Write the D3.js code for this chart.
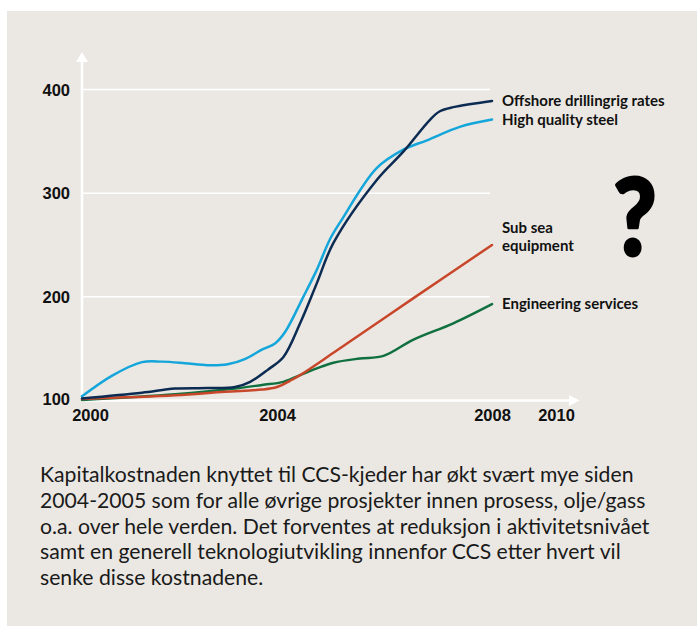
<!DOCTYPE html>
<meta charset="utf-8">
<style>
body { margin: 0; background: #fff; }
svg { display: block; font-family: Lato, "Open Sans", sans-serif; }
.tick text { font-size: 16.5px; font-weight: 700; fill: #111; }
.label { font-size: 15px; font-weight: 700; fill: #111; }
.note { font-size: 21.2px; fill: #1a1a1a; }
</style>
<svg width="697" height="626"></svg>
<script src="https://d3js.org/d3.v7.min.js"></script>
<script>

// values (index, 2000 = 100)
var steelYears  = [2000, 2000.62, 2001.23, 2001.64, 2002.11, 2002.58, 2002.99, 2003.34, 2003.69, 2003.96, 2004.15, 2004.49, 2004.74, 2004.99, 2005.2, 2005.85, 2006.35, 2006.79, 2007.4, 2008];
var steelValues = [104, 124, 137, 137.5, 136, 134, 135, 140, 149, 155, 166, 200, 226, 256, 274, 324, 342, 351, 364, 371];

var rigYears  = [2000, 2001.23, 2001.91, 2002.58, 2003.14, 2003.45, 2003.82, 2004.12, 2004.43, 2004.74, 2005.05, 2005.86, 2006.35, 2006.85, 2007.03, 2007.28, 2008];
var rigValues = [102, 107.5, 111.5, 112, 113, 118, 130, 142, 174.5, 213, 252, 313, 340, 371, 379, 383, 389];

var subseaYears  = [2000, 2001.91, 2002.93, 2003.69, 2004, 2004.24, 2004.43, 2005.05, 2006.56, 2008];
var subseaValues = [101.5, 105, 108.5, 110.5, 113, 119, 124.5, 146, 199.5, 250];

var engYears  = [2000, 2001.91, 2003.14, 2003.69, 2004.12, 2004.43, 2004.74, 2005.05, 2005.54, 2005.98, 2006.53, 2007.28, 2008];
var engValues = [100.5, 106, 111.5, 115, 118, 124.5, 131, 136.5, 140.5, 143, 158.5, 174.5, 193];

var yTicks = [100, 200, 300, 400];
var xTicks = [2000, 2004, 2008, 2010];

var series = [
  {name: ["Offshore drillingrig rates"], years: rigYears, values: rigValues, color: "#0c2b52"},
  {name: ["High quality steel"], years: steelYears, values: steelValues, color: "#14a6da"},
  {name: ["Sub sea", "equipment"], years: subseaYears, values: subseaValues, color: "#c8472a"},
  {name: ["Engineering services"], years: engYears, values: engValues, color: "#10703f"}
];

var noteLines = [
  "Kapitalkostnaden knyttet til CCS-kjeder har økt svært mye siden",
  "2004-2005 som for alle øvrige prosjekter innen prosess, olje/gass",
  "o.a. over hele verden. Det forventes at reduksjon i aktivitetsnivået",
  "samt en generell teknologiutvikling innenfor CCS etter hvert vil",
  "senke disse kostnadene."
];

var svg = d3.select("svg"),
    width = +svg.attr("width"),
    height = +svg.attr("height");

// panel
svg.append("rect")
    .attr("x", 7).attr("y", 11)
    .attr("width", width - 7).attr("height", height - 11)
    .attr("fill", "#ebe8e3");

// the original axis is not evenly spaced, so the scale is piecewise
var x = d3.scaleLinear().domain(xTicks).range([82, 277, 492, 556]);
var y = d3.scaleLinear().domain([100, 400]).range([400.5, 89.5]);

// gridlines
svg.append("g")
  .selectAll("line")
  .data(yTicks.slice(1))
  .enter().append("line")
    .attr("x1", x(2000)).attr("x2", x(2008) - 2)
    .attr("y1", function(d) { return y(d); })
    .attr("y2", function(d) { return y(d); })
    .attr("stroke", "#fff")
    .attr("stroke-width", 1.5);

// axis lines with arrows
var x0 = x(2000), y0 = y(100);
svg.append("line")
    .attr("x1", x0).attr("x2", x0)
    .attr("y1", y0 + 1).attr("y2", 60)
    .attr("stroke", "#fff").attr("stroke-width", 2.5);
svg.append("path")
    .attr("d", "M" + (x0 - 6) + ",62L" + x0 + ",52L" + (x0 + 6) + ",62Z")
    .attr("fill", "#fff");
svg.append("line")
    .attr("x1", x0 - 1).attr("x2", 571)
    .attr("y1", y0).attr("y2", y0)
    .attr("stroke", "#fff").attr("stroke-width", 2.5);
svg.append("path")
    .attr("d", "M569," + (y0 - 5.5) + "L579.5," + y0 + "L569," + (y0 + 5.5) + "Z")
    .attr("fill", "#fff");

// tick labels
var yAxis = svg.append("g")
    .attr("transform", "translate(" + (x0 - 12) + ",0)")
    .call(d3.axisLeft(y).tickValues(yTicks).tickSize(0).tickPadding(0));
yAxis.select(".domain").remove();
yAxis.selectAll(".tick text").attr("dy", "0.35em");
yAxis.selectAll(".tick").filter(function(d) { return d == 100; })
    .select("text").attr("dy", "0.22em");

var xAxis = svg.append("g")
    .attr("transform", "translate(0," + (y0 + 9) + ")")
    .call(d3.axisBottom(x).tickValues(xTicks).tickSize(0).tickPadding(0).tickFormat(d3.format("d")));
xAxis.select(".domain").remove();
xAxis.selectAll(".tick text").attr("dy", "0.71em");
xAxis.selectAll(".tick").filter(function(d) { return d == 2000; })
    .select("text").attr("dx", 8);

// lines
var line = d3.line()
    .x(function(d) { return x(d[0]); })
    .y(function(d) { return y(d[1]); })
    .curve(d3.curveCatmullRom.alpha(0.5));

svg.append("g")
  .selectAll("path")
  .data(series.slice().reverse())
  .enter().append("path")
    .attr("d", function(s) { return line(d3.zip(s.years, s.values)); })
    .attr("fill", "none")
    .attr("stroke", function(s) { return s.color; })
    .attr("stroke-width", 2.5)
    .attr("stroke-linecap", "round");

// end labels
series.forEach(function(s) {
  var last = s.values[s.values.length - 1];
  var t = svg.append("text")
      .attr("class", "label")
      .attr("x", x(2008) + 10)
      .attr("y", y(last) - (s.name.length - 1) * 17);
  s.name.forEach(function(part, i) {
    t.append("tspan")
        .attr("x", x(2008) + 10)
        .attr("dy", i == 0 ? "0.35em" : "1.15em")
        .text(part);
  });
});

// big question mark
svg.append("text")
    .attr("transform", "translate(635,255) scale(0.88,1)")
    .attr("text-anchor", "middle")
    .attr("font-size", 106)
    .attr("font-weight", 900)
    .attr("fill", "#000")
    .attr("stroke", "#000")
    .attr("stroke-width", 3)
    .attr("stroke-linejoin", "round")
    .text("?");

// caption
svg.append("g")
  .selectAll("text")
  .data(noteLines)
  .enter().append("text")
    .attr("class", "note")
    .attr("x", 40)
    .attr("y", function(d, i) { return 482 + i * 25.8; })
    .text(function(d) { return d; });

</script>
